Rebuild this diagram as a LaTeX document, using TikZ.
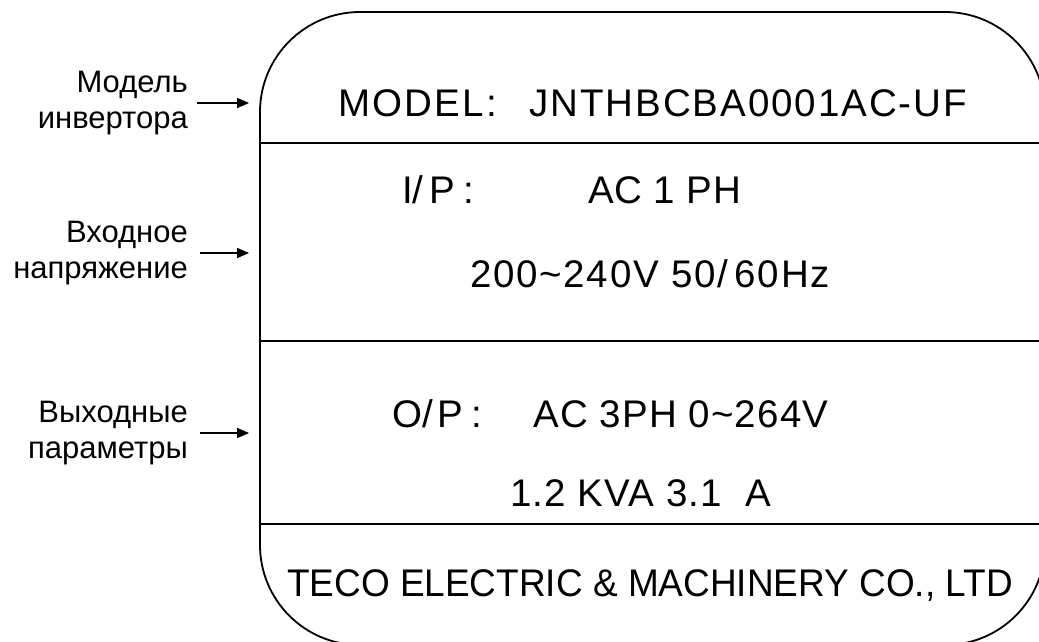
\documentclass[tikz,border=0pt]{standalone}
\usepackage{fontspec}
\setmainfont{Liberation Sans}
\usetikzlibrary{arrows.meta,calc}
\begin{document}
\begin{tikzpicture}[x=1pt,y=-1pt,
  plt/.style={font=\fontsize{38.5}{44}\selectfont, inner sep=0pt},
  lbl/.style={font=\fontsize{31}{36}\selectfont, align=right, inner sep=0pt, anchor=east},
  arr/.style={line width=1.4pt, -{Triangle[length=12pt,width=10pt]}},
  sep/.style={line width=1.8pt}]
\useasboundingbox (0,0) rectangle (1039,641);
\clip (0,0) rectangle (1039,641);
% plate
\node[draw, line width=1.8pt, rounded corners=100pt, minimum width=785pt, minimum height=633pt, inner sep=0pt] (plate) at (652.5,328.5) {};
\coordinate (l1) at (260,143);
\coordinate (l2) at (260,341);
\coordinate (l3) at (260,524);
\draw[sep] (l1) -- (l1 -| plate.east);
\draw[sep] (l2) -- (l2 -| plate.east);
\draw[sep] (l3) -- (l3 -| plate.east);
% texts
\node[plt, anchor=base west] (model) at (338,116) {\addfontfeatures{LetterSpace=6}MODEL:};
\node[plt, anchor=base east] (code) at (967,116) {\addfontfeatures{LetterSpace=5}JNTHBCBA0001AC-UF};
\node[plt, anchor=base west] (ip) at (402,203) {I/\kern6pt P\kern8pt:};
\node[plt, anchor=base west] (ipv) at (588,203) {\addfontfeatures{LetterSpace=2}AC 1 PH};
\node[plt, anchor=base west] (volt) at (470,287) {\addfontfeatures{LetterSpace=4.5}200\textasciitilde240V 50/\,60Hz};
\node[plt, anchor=base east] (op) at (482,427) {O/\kern4pt P\kern8pt:};
\node[plt, anchor=base west] (opv) at (533,427) {\addfontfeatures{LetterSpace=3}AC 3PH 0\textasciitilde264V};
\node[plt, anchor=base west] (kva) at (510,506) {\addfontfeatures{LetterSpace=3}1.2 KVA 3.1\ \ A};
\node[plt, anchor=base west, xscale=0.96] (teco) at (287,596) {TECO ELECTRIC \& MACHINERY CO., LTD};
% labels
\node[lbl] (lm) at (188,103) {Модель\\инвертора};
\node[lbl] (lv) at (188,253) {Входное\\напряжение};
\node[lbl] (lo) at (188,433) {Выходные\\параметры};
\draw[arr] ([xshift=9pt]lm.east) -- ([xshift=-10pt]lm.east -| plate.west);
\draw[arr] ([xshift=12pt]lv.east) -- ([xshift=-10pt]lv.east -| plate.west);
\draw[arr] ([xshift=12pt]lo.east) -- ([xshift=-10pt]lo.east -| plate.west);
\end{tikzpicture}
\end{document}
